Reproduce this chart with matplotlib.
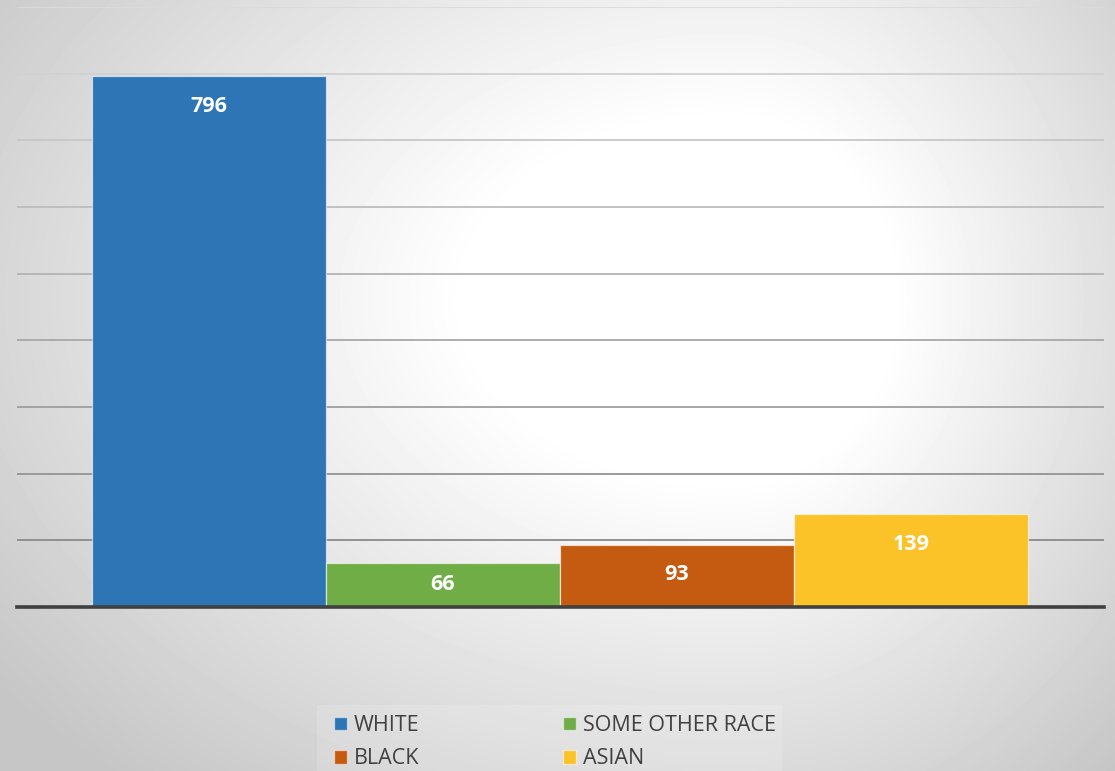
import numpy as np
import matplotlib.pyplot as plt
from matplotlib.patches import Patch, Rectangle

# data
races = ['WHITE', 'SOME OTHER RACE', 'BLACK', 'ASIAN']
counts = [796, 66, 93, 139]
colors = ['#2E75B6', '#70AD47', '#C55A11', '#FBC328']
grid_levels = [100, 200, 300, 400, 500, 600, 700, 800, 900]

W, H = 1115, 771
fig = plt.figure(figsize=(W / 100, H / 100), dpi=100)

# radial-ish background, white centre, grey edges
bg = fig.add_axes([0, 0, 1, 1], zorder=-10)
yy, xx = np.mgrid[0:H, 0:W]
cx, cy = 730.0, 300.0
ax_scale = np.where(xx > cx, 540.0, 880.0)
r = np.sqrt(((xx - cx) / ax_scale) ** 2 + ((yy - cy) / 600.0) ** 2)
t = np.clip((r - 0.3) / 0.75, 0, 1)
shade = 1.0 - t * (57 / 255)
bg.imshow(shade, cmap='gray', vmin=0, vmax=1, aspect='auto',
          extent=(0, W, H, 0), interpolation='bilinear')
bg.set_xlim(0, W)
bg.set_ylim(H, 0)
bg.axis('off')

# legend backdrop
bg.add_patch(Rectangle((317, 705), 465, 66, facecolor='white', alpha=0.15,
                       edgecolor='none'))

ax = fig.add_axes([17 / W, (H - 607) / H, 1087 / W, 600 / H])
ax.set_facecolor('none')

# gridlines get lighter toward the top
for lv in grid_levels:
    f = (lv - 100) / 800
    g = 0.54 + f * (0.86 - 0.54)
    ax.axhline(lv, color=(g, g, g), lw=1.3, zorder=1)

x = np.arange(len(races))
ax.bar(x, counts, width=1.0, color=colors, edgecolor=(1, 1, 1, 0.6),
       linewidth=0.9, zorder=2)
ax.axhline(0, color='#404040', lw=2.6, zorder=3, clip_on=False)

for xi, v in zip(x, counts):
    ypos = max(v - 45, v / 2)
    ax.text(xi, ypos, str(v), ha='center', va='center', color='white',
            fontsize=15.5, fontweight='bold', family='Open Sans', zorder=4)

ax.set_xlim(-0.82, 3.825)
ax.set_ylim(0, 900)
ax.set_xticks([])
ax.set_yticks([])
for s in ax.spines.values():
    s.set_visible(False)

# legend: column-wise fill gives WHITE/BLACK then SOME OTHER RACE/ASIAN
order = [0, 2, 1, 3]
handles = [Patch(facecolor=colors[i], edgecolor=(1, 1, 1, 0.5), lw=1)
           for i in order]
labels = [races[i] for i in order]
fig.legend(handles, labels, ncol=2, loc='upper left',
           bbox_to_anchor=(334 / W, 1 - 715 / H), frameon=False,
           borderpad=0, borderaxespad=0,
           prop={'family': 'Open Sans', 'size': 15.5},
           labelcolor='#404040', handlelength=0.6, handleheight=0.6,
           handletextpad=0.3, columnspacing=6.7, labelspacing=0.58)

fig.savefig('out.png', dpi=100)
